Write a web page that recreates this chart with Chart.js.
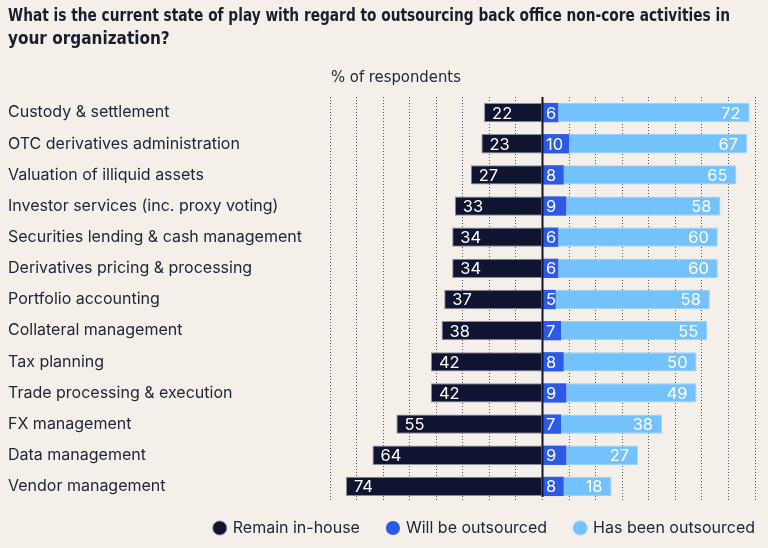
<!DOCTYPE html>
<html>
<head>
<meta charset="utf-8">
<script src="https://cdn.jsdelivr.net/npm/chart.js@4.4.1/dist/chart.umd.min.js"></script>
<style>
html,body{margin:0;padding:0;background:#f4efe9;}
#wrap{width:768px;height:548px;position:relative;}
</style>
</head>
<body>
<div id="wrap"><canvas id="c"></canvas></div>
<script>
const categories = [
  "Custody & settlement",
  "OTC derivatives administration",
  "Valuation of illiquid assets",
  "Investor services (inc. proxy voting)",
  "Securities lending & cash management",
  "Derivatives pricing & processing",
  "Portfolio accounting",
  "Collateral management",
  "Tax planning",
  "Trade processing & execution",
  "FX management",
  "Data management",
  "Vendor management"
];
const remainInHouse = [22,23,27,33,34,34,37,38,42,42,55,64,74];
const willBeOutsourced = [6,10,8,9,6,6,5,7,8,9,7,9,8];
const hasBeenOutsourced = [72,67,65,58,60,60,58,55,50,49,38,27,18];
const seriesNames = ["Remain in-house","Will be outsourced","Has been outsourced"];
const titleLines = ["What is the current state of play with regard to outsourcing back office non-core activities in","your organization?"];
const axisCaption = "% of respondents";

const C_DARK = "#0f1530", C_BLUE = "#2a5ae6", C_LIGHT = "#74c2fb", BG = "#f4efe9", TXT = "#22263a";
const SANS = "Inter, 'Open Sans', sans-serif";
const COND = "'Liberation Sans Narrow', 'DejaVu Sans Condensed', 'Roboto', sans-serif";

const bgPlugin = {
  id: "bg",
  beforeDraw(chart){
    const ctx = chart.ctx;
    ctx.save(); ctx.fillStyle = BG; ctx.fillRect(0,0,chart.width,chart.height); ctx.restore();
  }
};
const legendShift = {
  id: "legendShift",
  afterLayout(chart){
    const lg = chart.legend;
    if (lg) { lg.left += 10; lg.right += 10; }
  }
};
const extrasPlugin = {
  id: "extras",
  afterDatasetsDraw(chart){
    const ctx = chart.ctx, ca = chart.chartArea;
    const x0 = chart.scales.x.getPixelForValue(0);
    ctx.save();
    ctx.strokeStyle = C_DARK; ctx.lineWidth = 2;
    ctx.beginPath(); ctx.moveTo(x0, ca.top); ctx.lineTo(x0, ca.bottom - 5); ctx.stroke();
    ctx.fillStyle = "#ffffff";
    ctx.font = "16.5px " + SANS;
    ctx.textBaseline = "middle";
    chart.data.datasets.forEach((ds, di) => {
      const meta = chart.getDatasetMeta(di);
      meta.data.forEach((el, i) => {
        const v = Math.abs(ds.data[i]);
        const left = Math.min(el.x, el.base), right = Math.max(el.x, el.base);
        if (di === 0) { ctx.textAlign = "left"; ctx.fillText(String(v), left + 8, el.y + 1); }
        else if (di === 1) { ctx.textAlign = "left"; ctx.fillText(String(v), left + 3, el.y + 1); }
        else { ctx.textAlign = "right"; ctx.fillText(String(v), right - 9, el.y + 1); }
      });
    });
    // title
    ctx.fillStyle = "#1b1d2e";
    ctx.font = "bold 17px " + COND;
    ctx.textAlign = "left"; ctx.textBaseline = "middle";
    ctx.fillText(titleLines[0], 8, 17, 722);
    ctx.fillText(titleLines[1], 8, 40);
    // axis caption
    ctx.fillStyle = TXT;
    ctx.font = "16.5px " + COND;
    ctx.fillText(axisCaption, ca.left + 1, 78);
    ctx.restore();
  }
};

new Chart(document.getElementById("c"), {
  type: "bar",
  data: {
    labels: categories,
    datasets: [
      { label: seriesNames[0], data: remainInHouse.map(v => -v), backgroundColor: C_DARK, borderColor: "#8a8d9b", borderWidth: 1, borderSkipped: false },
      { label: seriesNames[1], data: willBeOutsourced, backgroundColor: C_BLUE, borderWidth: 0 },
      { label: seriesNames[2], data: hasBeenOutsourced, backgroundColor: C_LIGHT, borderColor: "#9ad2fb", borderWidth: 1, borderSkipped: "left" }
    ]
  },
  options: {
    indexAxis: "y",
    responsive: true,
    maintainAspectRatio: false,
    animation: false,
    layout: { padding: { left: 8, right: 13, top: 97, bottom: 2 } },
    datasets: { bar: { categoryPercentage: 1, barPercentage: 0.62 } },
    scales: {
      x: {
        stacked: true, min: -80, max: 80,
        ticks: { display: false, stepSize: 10 },
        grid: { color: "#4a4f63", lineWidth: 1, drawTicks: false },
        border: { display: false, dash: [1, 2] },
        afterFit(scale){ scale.height = 8; }
      },
      y: {
        stacked: true,
        grid: { display: false },
        border: { display: false },
        ticks: { crossAlign: "far", color: TXT, font: { family: SANS, size: 16 }, padding: 0 },
        afterFit(scale){ scale.width = 322; }
      }
    },
    plugins: {
      title: { display: false },
      legend: {
        position: "bottom", align: "end",
        labels: {
          usePointStyle: true, pointStyle: "circle", boxWidth: 10, boxHeight: 10, padding: 10,
          color: TXT, font: { family: SANS, size: 16 },
          generateLabels(chart){
            const items = Chart.defaults.plugins.legend.labels.generateLabels(chart);
            items.forEach((it, i) => { if (i < items.length - 1) it.text = it.text + "    "; });
            return items;
          }
        }
      },
      tooltip: { enabled: false }
    }
  },
  plugins: [bgPlugin, legendShift, extrasPlugin]
});
</script>
</body>
</html>
